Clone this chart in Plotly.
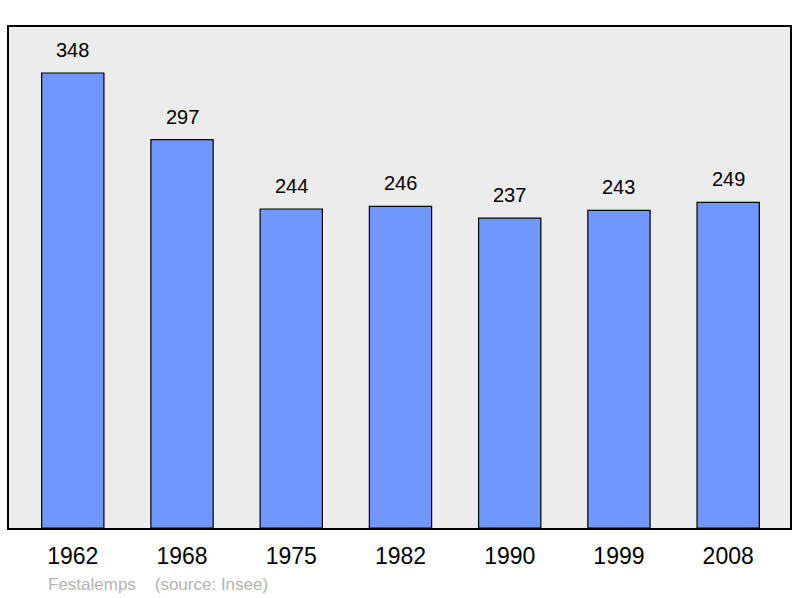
import plotly.graph_objects as go

# Données : population par année de recensement
annees = ["1962", "1968", "1975", "1982", "1990", "1999", "2008"]
population = [348, 297, 244, 246, 237, 243, 249]
positions = list(range(len(annees)))

fig = go.Figure(
    go.Bar(
        x=positions,
        y=population,
        width=0.57,
        marker=dict(color="#7097ff", line=dict(color="black", width=1.2)),
        hoverinfo="skip",
    )
)

# Valeurs au-dessus des barres
for x, y in zip(positions, population):
    fig.add_annotation(
        x=x, y=y, text=str(y), showarrow=False,
        yanchor="bottom", yshift=10,
        font=dict(family="Liberation Sans", size=20, color="black"),
    )

# Note de source
fig.add_annotation(
    xref="paper", yref="paper", x=0.048, y=-0.09,
    xanchor="left", yanchor="top", showarrow=False,
    text="Festalemps    (source: Insee)",
    font=dict(family="Liberation Sans", size=17, color="#b3b3b3"),
)

fig.update_layout(
    width=800, height=598,
    margin=dict(l=9, r=8, t=27, b=70),
    paper_bgcolor="white",
    plot_bgcolor="#ececec",
    showlegend=False,
    xaxis=dict(
        range=[-0.584, 6.566],
        tickvals=positions, ticktext=annees,
        tickfont=dict(family="Liberation Sans", size=23, color="black"),
        ticks="outside", ticklen=0, ticklabelstandoff=6,
        showgrid=False, zeroline=False,
        showline=True, linecolor="black", linewidth=2, mirror=True,
    ),
    yaxis=dict(
        range=[0, 383.2],
        showticklabels=False, showgrid=False, zeroline=False,
        showline=True, linecolor="black", linewidth=2, mirror=True,
    ),
)

fig.write_html(
    "out.html",
    config={"displayModeBar": False},
    post_script="document.body.style.margin='0';",
)
